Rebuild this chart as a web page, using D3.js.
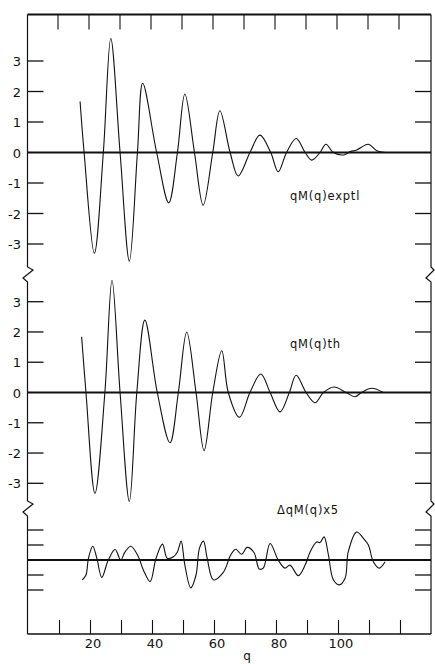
<!DOCTYPE html>
<html>
<head>
<meta charset="utf-8">
<script src="https://cdn.jsdelivr.net/npm/d3@7"></script>
<style>
  body { margin: 0; background: #fff; }
  svg { display: block; }
  text { font-family: "DejaVu Sans", "Liberation Sans", sans-serif; fill: #111; }
</style>
</head>
<body>
<div id="chart"></div>
<script>
// qM(q) expt'l (q, giá trị)
const qExp = [16.8, 18.1, 21.4, 24.3, 26.7, 29.7, 32.7, 35.3, 37.0, 41.5, 45.4, 48.2, 50.6, 53.7, 56.5, 59.6, 61.9,
    65.2, 67.8, 71.6, 74.8, 78.3, 80.7, 83.4, 86.5, 89.4, 91.5, 94.2, 96.1, 98.5, 101.9, 104.0, 106.0, 109.8, 112.5, 115.2];
const vExp = [1.67, 0, -3.30, 0, 3.74, 0, -3.56, 0, 2.27, 0, -1.65, 0, 1.92, 0, -1.73, 0, 1.37,
    0, -0.77, 0, 0.57, 0, -0.63, 0, 0.46, 0, -0.25, 0, 0.27, 0, -0.08, 0.03, 0.08, 0.27, 0.06, 0];

// qM(q) th
const qTh = [17.3, 18.7, 21.6, 24.8, 27.1, 29.7, 32.7, 35.1, 37.7, 41.7, 45.8, 48.5, 51.2, 54.2, 56.8, 59.6, 62.5,
    64.6, 68.2, 71.6, 75.1, 78.1, 81.3, 84.3, 86.5, 89.7, 92.6, 95.3, 98.7, 102.6, 105.5, 107.6, 110.9, 114.6];
const vTh = [1.84, 0, -3.33, 0, 3.71, 0, -3.60, 0, 2.39, 0, -1.66, 0, 2.00, 0, -1.92, 0, 1.38,
    0, -0.82, 0, 0.61, 0, -0.64, 0, 0.57, 0, -0.34, 0, 0.18, 0, -0.14, 0, 0.14, 0];

// ΔqM(q) x 5
const qDiff = [17.5, 18.7, 19.5, 20.9, 22.2, 23.8, 25.9, 28.1, 29.9, 31.3, 33.2, 35.6, 37.2, 39.4, 41.3, 43.4, 44.9,
    46.9, 48.2, 49.4, 50.6, 52.5, 54.2, 55.3, 56.6, 57.8, 59.8, 63.0, 65.4, 67.0, 68.9, 70.7, 72.9, 74.6, 75.9,
    78.1, 80.7, 82.9, 84.5, 87.2, 89.4, 91.0, 93.1, 94.2, 95.5, 96.9, 98.5, 100.4, 102.3, 103.3, 106.0, 108.2,
    109.8, 111.4, 113.3, 115.2];
const vDiff = [-0.66, -0.5, 0.06, 0.46, 0.06, -0.58, 0, 0.35, 0, 0.27, 0.46, 0.11, -0.33, -0.72, 0.06, 0.53, 0.06,
    0.11, 0.27, 0.63, -0.17, -0.93, -0.5, 0.39, 0.63, 0.06, -0.66, -0.41, 0.17, 0.36, 0.19, 0.42, 0.25, -0.3, -0.27,
    0.55, 0, -0.27, -0.17, -0.52, -0.17, 0.27, 0.6, 0.58, 0.77, 0.17, -0.66, -0.83, -0.6, 0.27, 0.93, 0.72,
    0.5, -0.06, -0.27, -0.06];

const qTicks = [10, 20, 30, 40, 50, 60, 70, 80, 90, 100, 110, 120];
const qLabels = [20, 40, 60, 80, 100];
const mainTicks = [3, 2, 1, 0, -1, -2, -3];
const diffTicks = [1, 0.5, 0, -0.5, -1];

const W = 435, H = 664;
const fLeft = 27.5, fRight = 431, fTop = 14.5, fBottom = 634;

const svg = d3.select("#chart").append("svg")
    .attr("width", W)
    .attr("height", H);

const x = d3.scaleLinear().domain([0, 130]).range([28, 431]);

const panels = [
    { q: qExp, v: vExp, y: d3.scaleLinear().domain([0, 3]).range([152.5, 61]), ticks: mainTicks, labels: true,
      name: "qM(q)exptl", tx: 290, ty: 200 },
    { q: qTh, v: vTh, y: d3.scaleLinear().domain([0, 3]).range([392.5, 301.7]), ticks: mainTicks, labels: true,
      name: "qM(q)th", tx: 290, ty: 348 },
    { q: qDiff, v: vDiff, y: d3.scaleLinear().domain([0, 1]).range([560, 530]), ticks: diffTicks, labels: false,
      name: "ΔqM(q)x5", tx: 277, ty: 514 }
];

// khung
svg.append("line")
    .attr("x1", fLeft).attr("x2", fRight)
    .attr("y1", fTop).attr("y2", fTop)
    .attr("stroke", "#111").attr("stroke-width", 2);
svg.append("line")
    .attr("x1", fLeft).attr("x2", fRight)
    .attr("y1", fBottom).attr("y2", fBottom)
    .attr("stroke", "#111").attr("stroke-width", 1.3);

const brk = [274, 508];
const lp = d3.path();
lp.moveTo(fLeft, fTop);
brk.forEach(b => {
    lp.lineTo(fLeft, b - 7);
    lp.lineTo(fLeft + 5.5, b - 4);
    lp.lineTo(fLeft - 4.5, b + 4);
    lp.lineTo(fLeft, b + 8);
});
lp.lineTo(fLeft, fBottom);
svg.append("path").attr("d", lp.toString())
    .attr("fill", "none").attr("stroke", "#111").attr("stroke-width", 1.2);

const rp = d3.path();
rp.moveTo(fRight, fTop);
brk.forEach(b => {
    rp.lineTo(fRight, b - 7);
    rp.lineTo(fRight + 3, b - 4);
    rp.lineTo(fRight - 5, b + 4);
    rp.lineTo(fRight, b + 8);
});
rp.lineTo(fRight, fBottom);
svg.append("path").attr("d", rp.toString())
    .attr("fill", "none").attr("stroke", "#111").attr("stroke-width", 1.2);

// trục q: vạch trên và dưới
svg.append("g")
    .attr("transform", `translate(-1.5,${fTop})`)
    .call(d3.axisBottom(x).tickValues(qTicks).tickSizeInner(15).tickSizeOuter(0).tickFormat(""))
    .call(g => g.select(".domain").remove())
    .selectAll("line").attr("stroke", "#111").attr("stroke-width", 1.1);

svg.append("g")
    .attr("transform", `translate(0,${fBottom})`)
    .call(d3.axisTop(x).tickValues(qTicks).tickSizeInner(14).tickSizeOuter(0).tickFormat(""))
    .call(g => g.select(".domain").remove())
    .selectAll("line").attr("stroke", "#111").attr("stroke-width", 1.1);

svg.selectAll(".qlab")
    .data(qLabels)
    .enter()
    .append("text")
    .attr("class", "qlab")
    .attr("x", d => x(d) + 3)
    .attr("y", 648)
    .attr("text-anchor", "middle")
    .style("font-size", "13px")
    .text(d => d);

svg.append("text")
    .attr("x", 247)
    .attr("y", 660)
    .attr("text-anchor", "middle")
    .style("font-size", "12px")
    .text("q");

const line = d3.line().curve(d3.curveCatmullRom.alpha(0.5));

panels.forEach(p => {
    // vạch trái/phải
    p.ticks.forEach(t => {
        if (t === 0) return;
        svg.append("line")
            .attr("x1", fLeft).attr("x2", fLeft + 16)
            .attr("y1", p.y(t)).attr("y2", p.y(t))
            .attr("stroke", "#111").attr("stroke-width", 1.3);
        svg.append("line")
            .attr("x1", fRight - 16).attr("x2", fRight)
            .attr("y1", p.y(t)).attr("y2", p.y(t))
            .attr("stroke", "#111").attr("stroke-width", 1.3);
    });

    if (p.labels) {
        svg.selectAll(null)
            .data(p.ticks)
            .enter()
            .append("text")
            .attr("x", 21)
            .attr("y", d => p.y(d) + 5)
            .attr("text-anchor", "end")
            .style("font-size", "13px")
            .text(d => d);
    }

    // đường 0
    svg.append("line")
        .attr("x1", fLeft).attr("x2", fRight)
        .attr("y1", p.y(0)).attr("y2", p.y(0))
        .attr("stroke", "#111").attr("stroke-width", 1.8);

    svg.append("path")
        .attr("d", line(p.q.map((q, i) => [x(q), p.y(p.v[i])])))
        .attr("fill", "none")
        .attr("stroke", "#111")
        .attr("stroke-width", 1.1);

    svg.append("text")
        .attr("x", p.tx)
        .attr("y", p.ty)
        .style("font-size", "11.5px")
        .style("letter-spacing", "0.8px")
        .text(p.name);
});
</script>
</body>
</html>
